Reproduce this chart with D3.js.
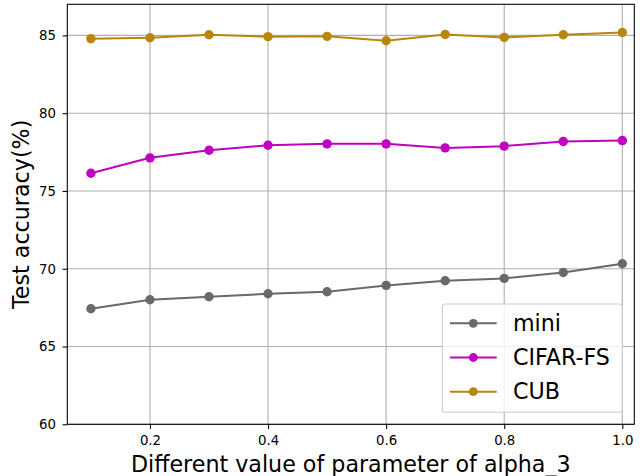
<!DOCTYPE html>
<html>
<head>
<meta charset="utf-8">
<script src="https://cdn.jsdelivr.net/npm/d3@7"></script>
<style>
  html, body { margin: 0; padding: 0; background: #fff; }
  svg { display: block; font-family: "DejaVu Sans", sans-serif; }
</style>
</head>
<body>
<svg id="chart" width="640" height="476"></svg>
<script>
const alphaValues = [0.1, 0.2, 0.3, 0.4, 0.5, 0.6, 0.7, 0.8, 0.9, 1.0];
const miniValues = [67.43, 68.01, 68.20, 68.39, 68.52, 68.93, 69.23, 69.38, 69.76, 70.32];
const cifarValues = [76.14, 77.13, 77.62, 77.94, 78.03, 78.03, 77.77, 77.88, 78.18, 78.24];
const cubValues = [84.79, 84.85, 85.04, 84.92, 84.94, 84.66, 85.06, 84.87, 85.04, 85.19];
const seriesNames = ["mini", "CIFAR-FS", "CUB"];
const seriesColors = ["#696969", "#bf00bf", "#b8860b"];
const xTicks = [0.2, 0.4, 0.6, 0.8, 1.0];
const yTicks = [60, 65, 70, 75, 80, 85];
const xLabel = "Different value of parameter of alpha_3";
const yLabel = "Test accuracy(%)";

const series = [miniValues, cifarValues, cubValues].map((vals, i) => ({
  name: seriesNames[i], color: seriesColors[i],
  points: alphaValues.map((a, j) => ({ x: a, y: vals[j] }))
}));

const svg = d3.select("#chart");
const mLeft = 67.3, mRight = 634.3, mTop = 4.3, mBottom = 424.3;

const x = d3.scaleLinear().domain([0.06, 1.0203]).range([mLeft, mRight]);
const y = d3.scaleLinear().domain([60, 87]).range([mBottom, mTop]);

// grid
const grid = svg.append("g");
grid.selectAll("line.gx").data(xTicks).enter().append("line")
  .attr("x1", d => x(d)).attr("x2", d => x(d)).attr("y1", mTop).attr("y2", mBottom)
  .attr("stroke", "#b0b0b0").attr("stroke-width", 1.1);
grid.selectAll("line.gy").data(yTicks).enter().append("line")
  .attr("y1", d => y(d)).attr("y2", d => y(d)).attr("x1", mLeft).attr("x2", mRight)
  .attr("stroke", "#b0b0b0").attr("stroke-width", 1.1);

// axes
const xAxis = d3.axisBottom(x).tickValues(xTicks).tickFormat(d3.format(".1f")).tickSizeOuter(0).tickSize(4.7).tickPadding(6.6);
const yAxis = d3.axisLeft(y).tickValues(yTicks).tickFormat(d3.format("d")).tickSizeOuter(0).tickSize(4.7).tickPadding(6.6);
const gx = svg.append("g").attr("transform", `translate(0,${mBottom})`).call(xAxis);
const gy = svg.append("g").attr("transform", `translate(${mLeft},0)`).call(yAxis);
[gx, gy].forEach(g => {
  g.select(".domain").remove();
  g.selectAll("text").attr("font-size", 13.3).attr("font-family", "DejaVu Sans").attr("fill", "#000");
  g.selectAll("line").attr("stroke", "#000").attr("stroke-width", 1.07);
});

// lines
const line = d3.line().x(d => x(d.x)).y(d => y(d.y));
const sg = svg.append("g");
series.forEach(s => {
  sg.append("path").datum(s.points).attr("d", line)
    .attr("fill", "none").attr("stroke", s.color).attr("stroke-width", 2);
  sg.selectAll(null).data(s.points).enter().append("circle")
    .attr("cx", d => x(d.x)).attr("cy", d => y(d.y)).attr("r", 4.7)
    .attr("fill", s.color);
});

// spines
svg.append("rect").attr("x", mLeft).attr("y", mTop)
  .attr("width", mRight - mLeft).attr("height", mBottom - mTop)
  .attr("fill", "none").attr("stroke", "#000").attr("stroke-width", 1.07);

// legend
const lg = svg.append("g");
lg.append("rect").attr("x", 442.3).attr("y", 304).attr("width", 180).attr("height", 108.3)
  .attr("rx", 3).attr("fill", "#fff").attr("fill-opacity", 0.8)
  .attr("stroke", "#cccccc").attr("stroke-width", 1.07);
const rowY = [323.3, 357.5, 391.7];
series.forEach((s, i) => {
  lg.append("line").attr("x1", 450).attr("x2", 496.7).attr("y1", rowY[i]).attr("y2", rowY[i])
    .attr("stroke", s.color).attr("stroke-width", 2);
  lg.append("circle").attr("cx", 473.3).attr("cy", rowY[i]).attr("r", 4.4).attr("fill", s.color);
  lg.append("text").attr("x", 513).attr("y", rowY[i] + 7.6)
    .attr("font-size", 22.2).attr("fill", "#000").text(s.name);
});

// axis labels
svg.append("text").attr("x", (mLeft + mRight) / 2).attr("y", 471.5)
  .attr("text-anchor", "middle").attr("font-size", 22.2).attr("fill", "#000").text(xLabel);
svg.append("text").attr("transform", `translate(29,${(mTop + mBottom) / 2}) rotate(-90)`)
  .attr("text-anchor", "middle").attr("font-size", 22.2).attr("fill", "#000").text(yLabel);
</script>
</body>
</html>
